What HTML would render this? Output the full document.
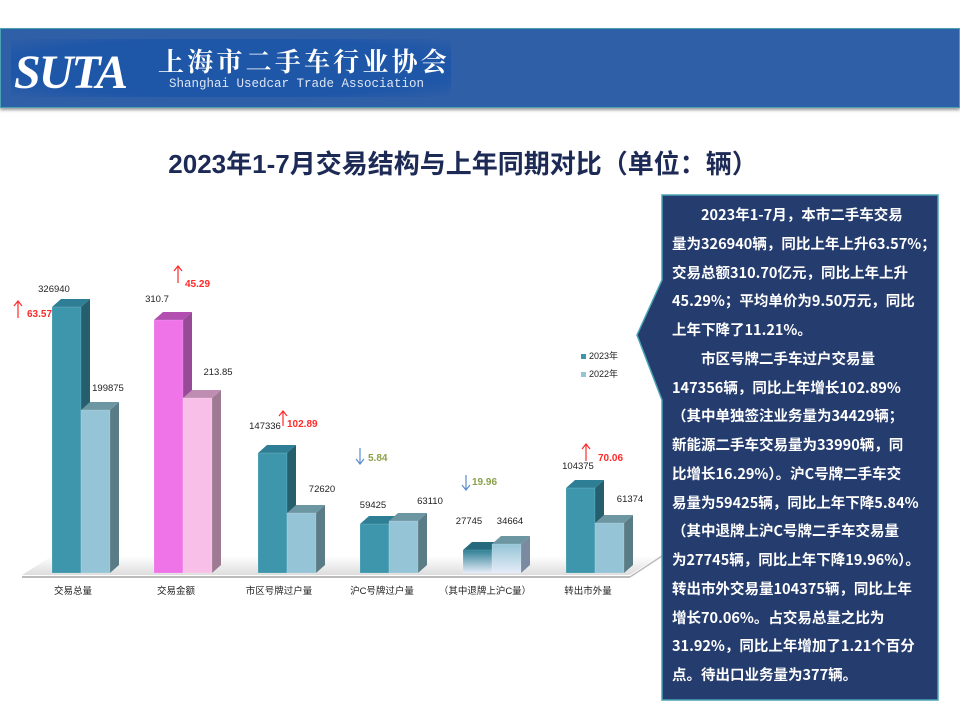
<!DOCTYPE html>
<html><head><meta charset="utf-8"><style>
body{margin:0;width:960px;height:720px;background:#fff;overflow:hidden;position:relative;font-family:"Liberation Sans","Noto Sans CJK SC",sans-serif}
#hdr{position:absolute;left:0;top:28px;width:958px;height:78px;background:#2f5fa7;border:1px solid #4aa3b5;box-shadow:0 2px 3px #999}
#logo{position:absolute;left:10px;top:10px;width:440px;height:58px;background:radial-gradient(ellipse at center,#1e56a8 70%,#2f5fa7 100%)}
#suta{position:absolute;left:14px;top:45px;font-family:"Liberation Serif",serif;font-style:italic;font-weight:bold;font-size:48px;color:#fff;letter-spacing:-2px}
#cn{position:absolute;left:158px;top:44px;font-family:"Noto Serif CJK SC",serif;font-size:26px;line-height:34px;color:#fff;letter-spacing:3.2px;font-weight:bold}
#en{position:absolute;left:169px;top:77px;font-family:"Liberation Mono",monospace;font-size:12.5px;color:#dde6f5}
#title{position:absolute;left:0;width:926px;top:144px;text-align:center;font-size:26px;font-weight:bold;color:#1c2a55;white-space:nowrap}
#txt{position:absolute;left:672px;top:201px;width:266px;color:#fff;font-weight:bold;font-size:14.5px;line-height:28.75px;white-space:nowrap;font-family:"Noto Sans CJK SC","Liberation Sans",sans-serif}
</style></head><body>
<div id="hdr"><div id="logo"></div></div>
<div id="suta">SUTA</div>
<div id="cn">上海市二手车行业协会</div>
<div id="en">Shanghai Usedcar Trade Association</div>
<div id="title">2023年1-7月交易结构与上年同期对比（单位：辆）</div>
<svg width="960" height="720" style="position:absolute;left:0;top:0">
<defs>
<linearGradient id="g5" x1="0" y1="0" x2="0" y2="1"><stop offset="0" stop-color="#2e7f95"/><stop offset="1" stop-color="#e6ecf8"/></linearGradient>
<linearGradient id="g5b" x1="0" y1="0" x2="0" y2="1"><stop offset="0" stop-color="#94c4d6"/><stop offset="1" stop-color="#e6ecf8"/></linearGradient>
<linearGradient id="fl" x1="0" y1="0" x2="0" y2="1"><stop offset="0" stop-color="#fff"/><stop offset="1" stop-color="#ddd"/></linearGradient>
</defs>
<polygon points="22,575 630,575 660,556 52,556" fill="url(#fl)"/>
<line x1="22" y1="577" x2="630" y2="577" stroke="#bbb" stroke-width="2"/>
<line x1="630" y1="577" x2="662" y2="556" stroke="#bbb" stroke-width="1.5"/>
<g id="bars"></g>
<g font-size="9.5" fill="#222" text-anchor="middle">
<text x="73" y="594">交易总量</text><text x="176" y="594">交易金额</text><text x="279" y="594">市区号牌过户量</text><text x="382" y="594">沪C号牌过户量</text><text x="485" y="594">（其中退牌上沪C量）</text><text x="588" y="594">转出市外量</text>
</g>
<g font-size="9.5" fill="#222" text-anchor="middle">
<text x="54" y="292">326940</text><text x="108" y="391">199875</text>
<text x="157" y="302">310.7</text><text x="218" y="375">213.85</text>
<text x="265" y="429">147336</text><text x="322" y="492">72620</text>
<text x="373" y="508">59425</text><text x="430" y="504">63110</text>
<text x="469" y="524">27745</text><text x="510" y="524">34664</text>
<text x="578" y="469">104375</text><text x="630" y="502">61374</text>
</g>
<g font-size="10" font-weight="bold" fill="#ff2a2a">
<text x="27" y="317">63.57</text><text x="185" y="287">45.29</text><text x="287" y="427">102.89</text><text x="598" y="461">70.06</text>
</g>
<g font-size="10" font-weight="bold" fill="#8aa04a"><text x="368" y="461">5.84</text><text x="472" y="485">19.96</text></g>
<g stroke-width="1.2" fill="none">
<path d="M18,318V302M14,306L18,301L22,306" stroke="#ff2a2a"/>
<path d="M178,283V267M174,271L178,266L182,271" stroke="#ff2a2a"/>
<path d="M283,426V412M279,416L283,411L287,416" stroke="#ff2a2a"/>
<path d="M586,461V445M582,449L586,444L590,449" stroke="#ff2a2a"/>
<path d="M360,448V463M356,459L360,464L364,459" stroke="#5b8bd0"/>
<path d="M466,475V489M462,485L466,490L470,485" stroke="#5b8bd0"/>
</g>
<rect x="581" y="354" width="5" height="5" fill="#3e96ad"/><text x="589" y="359" font-size="9" fill="#222">2023年</text>
<rect x="581" y="372" width="5" height="5" fill="#94c4d6"/><text x="589" y="377" font-size="9" fill="#222">2022年</text>
<polygon points="662,195 938,195 938,700 662,700 662,400 637,335 662,280" fill="#253c6e" stroke="#4aa3b5" stroke-width="1.5"/>
</svg>
<div id="txt">
&#12288;&#12288;2023年1-7月，本市二手车交易<br>
量为326940辆，同比上年上升63.57%；<br>
交易总额310.70亿元，同比上年上升<br>
45.29%；平均单价为9.50万元，同比<br>
上年下降了11.21%。<br>
&#12288;&#12288;市区号牌二手车过户交易量<br>
147356辆，同比上年增长102.89%<br>
（其中单独签注业务量为34429辆；<br>
新能源二手车交易量为33990辆，同<br>
比增长16.29%）。沪C号牌二手车交<br>
易量为59425辆，同比上年下降5.84%<br>
（其中退牌上沪C号牌二手车交易量<br>
为27745辆，同比上年下降19.96%）。<br>
转出市外交易量104375辆，同比上年<br>
增长70.06%。占交易总量之比为<br>
31.92%，同比上年增加了1.21个百分<br>
点。待出口业务量为377辆。
</div>
<script>
var g=document.getElementById('bars'),B=573,W=29,D=9,H=8;
var bars=[[52,307,'#3e96ad','#2e7f95','#255e6d'],[81,410,'#94c4d6','#6d96a3','#5a7c87'],
[154,320,'#ef74e8','#b24fb0','#974a95'],[183,398,'#f8bfe8','#c08db2','#9f7a93'],
[258,453,'#3e96ad','#2e7f95','#255e6d'],[287,513,'#94c4d6','#6d96a3','#5a7c87'],
[360,524,'#3e96ad','#2e7f95','#255e6d'],[389,521,'#94c4d6','#6d96a3','#5a7c87'],
[463,550,'url(#g5)','#256b7d','#255e6d'],[492,544,'url(#g5b)','#6d96a3','#7a8aa0'],
[566,488,'#3e96ad','#2e7f95','#255e6d'],[595,523,'#94c4d6','#6d96a3','#5a7c87']];
var s='';
bars.forEach(function(b){var x=b[0],t=b[1];
s+='<polygon points="'+(x+W)+','+t+' '+(x+W+D)+','+(t-H)+' '+(x+W+D)+','+(B-H)+' '+(x+W)+','+B+'" fill="'+b[4]+'"/>';
s+='<polygon points="'+x+','+t+' '+(x+D)+','+(t-H)+' '+(x+W+D)+','+(t-H)+' '+(x+W)+','+t+'" fill="'+b[3]+'"/>';
s+='<rect x="'+x+'" y="'+t+'" width="'+W+'" height="'+(B-t)+'" fill="'+b[2]+'" stroke="#fff" stroke-opacity=".3" stroke-width=".5"/>';});
g.innerHTML=s;
</script>
</body></html>
